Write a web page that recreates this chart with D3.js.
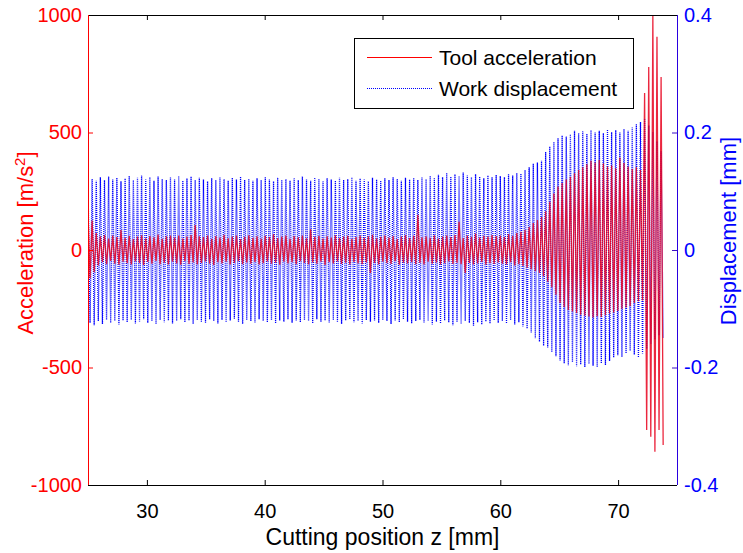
<!DOCTYPE html>
<html><head><meta charset="utf-8">
<script src="https://cdn.jsdelivr.net/npm/d3@7"></script>
<style>
body{margin:0;background:#fff}
svg{display:block}
text{font-family:"Liberation Sans",Arial,sans-serif}
</style>
</head><body>
<svg id="chart" width="743" height="553"></svg>
<script>
// ---- data ----
const cycleStart = 25;      // mm, first oscillation peak
const cycleLength = 0.35;   // mm, one oscillation cycle (peak + trough)

// Work displacement [mm], peak and trough of each cycle
const blueMax = [
0.114,0.121,0.118,0.124,0.119,0.125,0.120,0.123,0.117,0.122,
0.126,0.119,0.123,0.127,0.120,0.124,0.118,0.125,0.121,0.119,
0.124,0.120,0.126,0.118,0.122,0.125,0.119,0.123,0.120,0.117,
0.122,0.119,0.124,0.121,0.118,0.123,0.120,0.125,0.119,0.121,
0.118,0.122,0.119,0.124,0.120,0.117,0.123,0.119,0.121,0.118,
0.122,0.119,0.125,0.120,0.118,0.123,0.121,0.117,0.122,0.120,
0.118,0.123,0.119,0.121,0.124,0.118,0.122,0.120,0.117,0.123,
0.120,0.118,0.122,0.119,0.124,0.121,0.118,0.123,0.120,0.122,
0.119,0.124,0.121,0.126,0.122,0.128,0.124,0.131,0.125,0.129,
0.126,0.132,0.127,0.124,0.129,0.125,0.122,0.127,0.124,0.128,
0.126,0.124,0.129,0.127,0.131,0.130,0.136,0.141,0.147,0.149,
0.152,0.167,0.176,0.184,0.190,0.195,0.193,0.197,0.203,0.199,
0.202,0.198,0.204,0.200,0.203,0.199,0.205,0.201,0.204,0.200,
0.206,0.203,0.209,0.214,0.218,0.224,0.212,0.201,0.185,0.168];
const blueMin = [
-0.124,-0.128,-0.121,-0.126,-0.119,-0.124,-0.121,-0.127,-0.120,-0.123,
-0.119,-0.125,-0.122,-0.118,-0.124,-0.121,-0.126,-0.119,-0.123,-0.120,
-0.125,-0.121,-0.118,-0.123,-0.120,-0.126,-0.119,-0.122,-0.124,-0.118,
-0.121,-0.125,-0.119,-0.123,-0.120,-0.117,-0.122,-0.126,-0.119,-0.121,
-0.124,-0.118,-0.121,-0.123,-0.119,-0.125,-0.120,-0.122,-0.118,-0.124,
-0.120,-0.123,-0.119,-0.121,-0.125,-0.118,-0.122,-0.120,-0.124,-0.119,
-0.122,-0.126,-0.120,-0.118,-0.123,-0.121,-0.125,-0.119,-0.122,-0.120,
-0.124,-0.119,-0.121,-0.126,-0.120,-0.123,-0.118,-0.122,-0.125,-0.121,
-0.119,-0.124,-0.121,-0.127,-0.122,-0.125,-0.120,-0.123,-0.128,-0.122,
-0.126,-0.121,-0.124,-0.129,-0.123,-0.127,-0.122,-0.125,-0.120,-0.124,
-0.121,-0.125,-0.119,-0.127,-0.123,-0.130,-0.134,-0.141,-0.150,-0.156,
-0.163,-0.166,-0.174,-0.181,-0.188,-0.193,-0.196,-0.191,-0.198,-0.195,
-0.199,-0.194,-0.197,-0.199,-0.193,-0.196,-0.189,-0.183,-0.179,-0.182,
-0.176,-0.172,-0.178,-0.183,-0.176,-0.168,-0.160,-0.152,-0.145,-0.150];

// Tool acceleration [m/s^2], peak and trough of each cycle
const accMax = [
160,125,72,58,64,49,61,55,85,52,
60,47,57,63,50,59,54,66,48,58,
62,53,61,49,57,64,106,58,55,62,
48,59,53,65,50,57,61,47,56,63,
52,58,49,60,55,67,51,57,62,48,
59,54,61,50,88,56,60,49,58,53,
63,51,57,60,48,55,62,52,58,65,
50,56,61,53,59,47,57,64,51,60,
150,54,58,52,63,49,57,61,55,64,
120,51,62,56,70,53,60,57,64,59,
62,55,68,60,72,78,86,98,115,128,
140,165,205,240,270,285,300,312,327,340,
352,365,380,372,383,368,355,360,348,392,
370,355,345,352,340,668,779,1000,907,736];
const accMin = [
-120,-95,-66,-52,-60,-47,-58,-63,-50,-56,
-61,-49,-55,-64,-51,-58,-47,-60,-54,-62,
-50,-57,-63,-48,-59,-53,-61,-55,-49,-58,
-64,-52,-57,-50,-61,-55,-48,-60,-53,-58,
-51,-62,-56,-49,-58,-54,-63,-50,-57,-52,
-60,-48,-55,-61,-53,-58,-50,-64,-52,-57,
-49,-59,-54,-62,-51,-57,-60,-53,-98,-55,
-61,-50,-56,-59,-48,-63,-54,-57,-52,-60,
-55,-62,-50,-58,-53,-61,-56,-49,-59,-54,
-60,-98,-55,-62,-57,-51,-63,-56,-59,-53,
-58,-61,-52,-66,-60,-68,-75,-82,-90,-98,
-112,-135,-158,-190,-225,-242,-255,-262,-268,-275,
-280,-283,-287,-282,-285,-278,-270,-266,-260,-250,
-245,-238,-225,-218,-215,-766,-795,-859,-766,-830];

const xTicks = [30, 40, 50, 60, 70];
const accTicks = [-1000, -500, 0, 500, 1000];
const dispTicks = [-0.4, -0.2, 0, 0.2, 0.4];
const xDomain = [25, 75];
const accDomain = [-1000, 1000];
const dispDomain = [-0.4, 0.4];
const legendLabels = ["Tool acceleration", "Work displacement"];

// ---- layout ----
const L = 88, R = 677, T = 15, B = 485;
const svg = d3.select("#chart");
const x = d3.scaleLinear().domain(xDomain).range([L, R]);
const yA = d3.scaleLinear().domain(accDomain).range([B, T]);
const yD = d3.scaleLinear().domain(dispDomain).range([B, T]);

function series(maxArr, minArr) {
  const pts = [];
  maxArr.forEach((v, i) => {
    pts.push([cycleStart + cycleLength * i, v]);
    pts.push([cycleStart + cycleLength * (i + 0.5), minArr[i]]);
  });
  return pts;
}

svg.append("defs").append("clipPath").attr("id", "plotclip")
  .append("rect").attr("x", L).attr("y", T).attr("width", R - L).attr("height", B - T);

const plot = svg.append("g").attr("clip-path", "url(#plotclip)");
plot.append("path")
  .attr("d", d3.line().x(d => x(d[0])).y(d => yD(d[1]))(series(blueMax, blueMin)))
  .attr("fill", "none").attr("stroke", "#0000ff").attr("stroke-width", 1.3)
  .attr("stroke-dasharray", "1,1");
plot.append("path")
  .attr("d", d3.line().x(d => x(d[0])).y(d => yA(d[1]))(series(accMax, accMin)))
  .attr("fill", "none").attr("stroke", "#e8001c").attr("stroke-width", 1.3)
  .attr("stroke-opacity", 0.85);

const fmt = d => String(d);
const tickFont = 20;

// bottom axis
const gx = svg.append("g").attr("transform", `translate(0,${B})`)
  .call(d3.axisBottom(x).tickValues(xTicks).tickSize(-5).tickPadding(19).tickFormat(fmt));
gx.select(".domain").remove();
gx.selectAll("line").attr("stroke", "#000");
gx.selectAll("text").attr("fill", "#000").style("font-size", tickFont + "px");
// top axis (ticks only)
const gt = svg.append("g").attr("transform", `translate(0,${T})`)
  .call(d3.axisTop(x).tickValues(xTicks).tickSize(-5).tickFormat(""));
gt.select(".domain").remove();
gt.selectAll("line").attr("stroke", "#000");

// left axis (red)
const gl = svg.append("g").attr("transform", `translate(${L},0)`)
  .call(d3.axisLeft(yA).tickValues(accTicks).tickSize(-5).tickPadding(6).tickFormat(fmt));
gl.select(".domain").remove();
gl.selectAll("line").attr("stroke", "#ff0000");
gl.selectAll("text").attr("fill", "#ff0000").style("font-size", tickFont + "px");

// right axis (blue)
const gr = svg.append("g").attr("transform", `translate(${R},0)`)
  .call(d3.axisRight(yD).tickValues(dispTicks).tickSize(-5).tickPadding(7).tickFormat(fmt));
gr.select(".domain").remove();
gr.selectAll("line").attr("stroke", "#3a10c0");
gr.selectAll("text").attr("fill", "#0000ff").style("font-size", tickFont + "px");

// frame
svg.append("line").attr("x1", L).attr("x2", R).attr("y1", T + 0.5).attr("y2", T + 0.5).attr("stroke", "#000");
svg.append("line").attr("x1", L).attr("x2", R).attr("y1", B + 0.5).attr("y2", B + 0.5).attr("stroke", "#000");
svg.append("line").attr("x1", L + 0.5).attr("x2", L + 0.5).attr("y1", T).attr("y2", B).attr("stroke", "#ff0000");
svg.append("line").attr("x1", R + 0.5).attr("x2", R + 0.5).attr("y1", T).attr("y2", B).attr("stroke", "#2a00e0");

// axis labels
svg.append("text").attr("x", (L + R) / 2).attr("y", 545).attr("text-anchor", "middle")
  .style("font-size", "23px").attr("fill", "#000").text("Cutting position z [mm]");
const yl = svg.append("text").attr("transform", "translate(33,243) rotate(-90)")
  .attr("text-anchor", "middle").style("font-size", "22px").attr("fill", "#ff0000");
yl.append("tspan").text("Acceleration [m/s");
yl.append("tspan").attr("dy", -8).style("font-size", "15px").text("2");
yl.append("tspan").attr("dy", 8).text("]");
svg.append("text").attr("transform", "translate(736,231) rotate(-90)")
  .attr("text-anchor", "middle").style("font-size", "22px").attr("fill", "#0000ff").text("Displacement [mm]");

// legend
const lg = svg.append("g");
lg.append("rect").attr("x", 354.5).attr("y", 38.5).attr("width", 279).attr("height", 70)
  .attr("fill", "#fff").attr("stroke", "#000");
const legendStyles = [{c: "#ff0000", dash: null, y: 57}, {c: "#0000ff", dash: "1,1", y: 88}];
legendLabels.forEach((lab, i) => {
  const s = legendStyles[i];
  lg.append("line").attr("x1", 367).attr("x2", 432).attr("y1", s.y + 0.5).attr("y2", s.y + 0.5)
    .attr("stroke", s.c).attr("stroke-dasharray", s.dash);
  lg.append("text").attr("x", 439).attr("y", s.y + 7.5).style("font-size", "21px")
    .attr("fill", "#000").text(lab);
});
</script>
</body></html>
